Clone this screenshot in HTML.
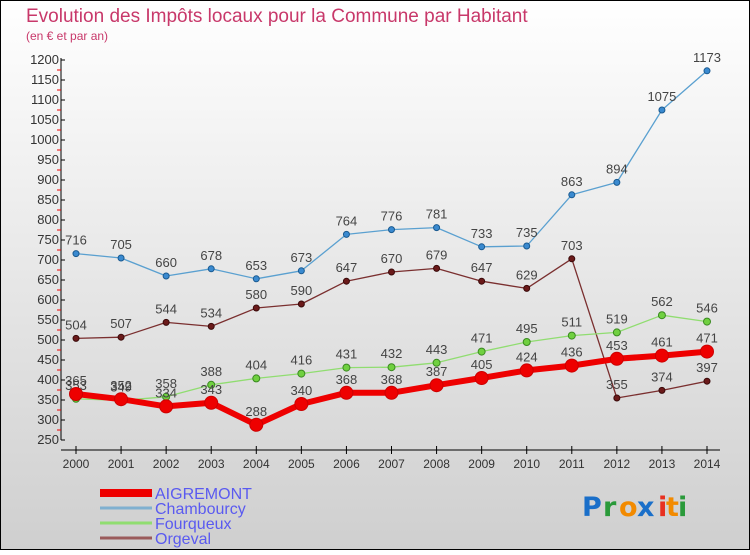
<!DOCTYPE html>
<html><head><meta charset="utf-8">
<style>
html,body{margin:0;padding:0}
body{width:750px;height:550px;overflow:hidden;font-family:"Liberation Sans",sans-serif}
</style></head>
<body>
<svg id="chart" width="750" height="550" xmlns="http://www.w3.org/2000/svg" font-family="'Liberation Sans',sans-serif">
<defs>
<linearGradient id="bg" x1="0" y1="0" x2="0" y2="1">
<stop offset="0" stop-color="#ffffff"/><stop offset="1" stop-color="#cfcfcf"/>
</linearGradient>
</defs>
<rect x="0.5" y="0.5" width="749" height="549" fill="url(#bg)" stroke="#000" stroke-width="1"/>
<text x="26" y="22" font-size="19" fill="#c8386a">Evolution des Impôts locaux pour la Commune par Habitant</text>
<text x="26" y="40" font-size="12" fill="#c8386a">(en € et par an)</text>
<g id="axes"></g>
<g id="series"></g>
<g id="legend"></g>
<g font-family="'DejaVu Sans',sans-serif" font-size="27" font-weight="bold">
<text x="582" y="516" fill="#1a6fc9">P</text><text x="603" y="516" fill="#2a9a3a">r</text><text x="619" y="516" fill="#f28a00">o</text>
<text x="637" y="516" fill="#1a6fc9">x</text><text x="658" y="516" fill="#e83020">i</text><text x="666" y="516" fill="#f28a00">t</text><text x="678" y="516" fill="#2a9a3a">i</text>
</g>
</svg>
<script>
const years = [2000,2001,2002,2003,2004,2005,2006,2007,2008,2009,2010,2011,2012,2013,2014];
const aigremont = [365,352,334,343,288,340,368,368,387,405,424,436,453,461,471];
const chambourcy = [716,705,660,678,653,673,764,776,781,733,735,863,894,1075,1173];
const fourqueux = [353,349,358,388,404,416,431,432,443,471,495,511,519,562,546];
const orgeval = [504,507,544,534,580,590,647,670,679,647,629,703,355,374,397];
const yTicks = [250,300,350,400,450,500,550,600,650,700,750,800,850,900,950,1000,1050,1100,1150,1200];
const seriesNames = ["AIGREMONT","Chambourcy","Fourqueux","Orgeval"];

const NS="http://www.w3.org/2000/svg";
const xS = i => 76 + i*(707-76)/(years.length-1);
const yS = v => 440 - (v-250)*(380/950);
function mk(tag, attrs, parent){const e=document.createElementNS(NS,tag);for(const k in attrs)e.setAttribute(k,attrs[k]);parent.appendChild(e);return e;}
const axes=document.getElementById('axes'), ser=document.getElementById('series'), leg=document.getElementById('legend');

let yAxis=mk('line',{x1:61,y1:58,x2:61,y2:440,stroke:'#000','stroke-width':1},axes);


let xAxis=mk('line',{x1:61,y1:450,x2:720,y2:450,stroke:'#000','stroke-width':1},axes);


yTicks.forEach((t,i)=>{
  const y=yS(t);
  mk('line',{x1:61,y1:y,x2:65,y2:y,stroke:'#000'},axes);
  if(i<yTicks.length-1) mk('line',{x1:57,y1:yS(t+25),x2:61,y2:yS(t+25),stroke:'#e00'},axes);
  const tx=mk('text',{x:59,y:y+4,'font-size':13,'text-anchor':'end',fill:'#333'},axes);
  
  
  tx.textContent=t;
});
years.forEach((yr,i)=>{
  const x=xS(i);
  mk('line',{x1:x,y1:446,x2:x,y2:454,stroke:'#000'},axes);
  const tx=mk('text',{x:x,y:468,'font-size':12,'text-anchor':'middle',fill:'#333'},axes);
  
  
  tx.textContent=yr;
});

function drawSeries(name,data,color,dot,lw,r,dotStroke){
  const g=mk('g',{},ser);
  
  
  const pts=data.map((v,i)=>xS(i)+','+yS(v)).join(' ');
  mk('polyline',{points:pts,fill:'none',stroke:color,'stroke-width':lw,'stroke-linejoin':'round'},g);
  data.forEach((v,i)=>{
    const c=mk('circle',{cx:xS(i),cy:yS(v),r:r,fill:dot,stroke:dotStroke,'stroke-width':1},g);
    
    
    const t=mk('text',{x:xS(i),y:yS(v)-9,'font-size':13,'text-anchor':'middle',fill:'#444'},g);
    
    
    t.textContent=v;
  });
}
drawSeries('Orgeval',orgeval,'#7a2f2f','#6b1a1a',1.3,3,'#3a0a0a');
drawSeries('Chambourcy',chambourcy,'#5aa0d0','#3a8ad0',1.3,3,'#1a5a90');
drawSeries('Fourqueux',fourqueux,'#90dd70','#70d040',1.3,3.5,'#3a8a20');
drawSeries('AIGREMONT',aigremont,'#ee0000','#ee0000',6,6.5,'#cc0000');

const legColors=['#ee0000','#7fb0d0','#90dd70','#9a5a5a'];
const legW=[8,3,3,3];
seriesNames.forEach((n,i)=>{
  const y=493+i*15;
  const g=mk('g',{},leg);
  
  
  mk('line',{x1:100,y1:y,x2:152,y2:y,stroke:legColors[i],'stroke-width':legW[i]},g);
  const t=mk('text',{x:155,y:y+6,'font-size':16,fill:'#5a5af0'},g);
  t.textContent=n;
});
</script>
</body></html>
